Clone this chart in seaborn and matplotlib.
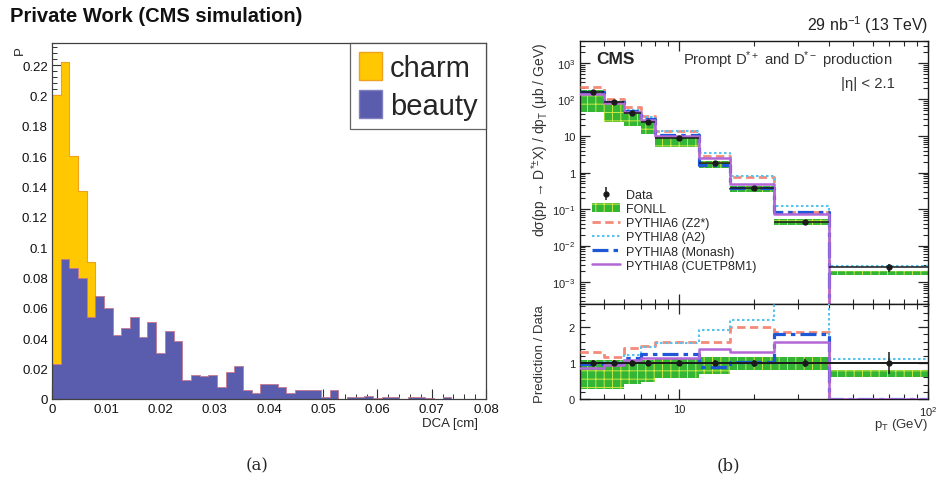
import numpy as np
import pandas as pd
import matplotlib
matplotlib.use("Agg")
import matplotlib.pyplot as plt
import seaborn as sns
from matplotlib.ticker import MultipleLocator, FixedLocator, FuncFormatter, NullFormatter
from matplotlib.patches import Patch

# ---------------- panel (a): DCA distributions ----------------
dca_min, dca_max, dca_nbins = 0.0, 0.08, 50
beauty = [0.023, 0.092, 0.086, 0.080, 0.054, 0.068, 0.060, 0.042, 0.047, 0.054,
          0.041, 0.051, 0.030, 0.045, 0.038, 0.0125, 0.016, 0.015, 0.016, 0.008,
          0.018, 0.022, 0.006, 0.004, 0.010, 0.010, 0.0077, 0.004, 0.006, 0.006,
          0.006, 0.001, 0.006, 0.0, 0.0015, 0.0015, 0.002, 0.0005, 0.0015, 0.0015,
          0.0, 0.0015, 0.0015, 0.0005, 0.0, 0.001, 0.0003, 0.0003, 0.0003, 0.0]
charm = [0.200, 0.222, 0.160, 0.137, 0.090, 0.040, 0.030, 0.022, 0.016, 0.012,
         0.008, 0.006]
legend_labels_a = ["charm", "beauty"]

# ---------------- panel (b): D* cross sections ----------------
pt_edges = [4, 5, 6, 7, 8, 12, 16, 24, 40, 100]
data_pt = [4.5, 5.5, 6.5, 7.5, 10, 14, 20, 32, 70]
data_xsec = [164, 86, 43, 23.7, 8.65, 1.82, 0.37, 0.045, 0.0025]
data_xsec_err = [15, 8, 4, 2.2, 0.8, 0.17, 0.035, 0.005, 0.0006]
fonll_lo = [46, 24, 18.5, 11.4, 5.1, 1.29, 0.30, 0.036, 0.0016]
fonll_hi = [177, 93, 47, 26, 9.7, 2.13, 0.43, 0.053, 0.0020]
py6_z2 = [215, 100, 61, 35, 13.7, 2.9, 0.74, 0.085, 0.0]
py8_a2 = [165, 88, 53, 34, 13.4, 3.5, 0.82, 0.12, 0.0028]
py8_monash = [162, 85, 49, 30, 10.9, 1.62, 0.38, 0.082, 0.0]
py8_cuetp = [141, 81, 46, 27, 9.9, 2.55, 0.48, 0.072, 0.0]

ratio_data_err = [0.09, 0.09, 0.09, 0.09, 0.09, 0.09, 0.10, 0.12, 0.30]
ratio_fonll_lo = [0.28, 0.28, 0.43, 0.48, 0.59, 0.71, 0.80, 0.80, 0.62]
ratio_fonll_hi = [1.08, 1.08, 1.10, 1.10, 1.12, 1.17, 1.17, 1.17, 0.80]
ratio_z2 = [1.31, 1.17, 1.42, 1.49, 1.59, 1.59, 2.00, 1.88, 0.0]
ratio_a2 = [1.00, 1.02, 1.23, 1.45, 1.55, 1.93, 2.21, 2.90, 1.12]
ratio_monash = [0.99, 0.99, 1.15, 1.26, 1.26, 0.89, 1.02, 1.82, 0.0]
ratio_cuetp = [0.86, 0.94, 1.08, 1.14, 1.14, 1.40, 1.31, 1.60, 0.0]

series_labels = ["PYTHIA6 (Z2*)", "PYTHIA8 (A2)", "PYTHIA8 (Monash)", "PYTHIA8 (CUETP8M1)"]

# ---------------- styling ----------------
sns.set_theme(style="white")
plt.rcParams["font.family"] = ["Liberation Sans", "DejaVu Sans"]
plt.rcParams["mathtext.fontset"] = "custom"
plt.rcParams["mathtext.rm"] = "Liberation Sans"
plt.rcParams["mathtext.it"] = "Liberation Sans:italic"
plt.rcParams["mathtext.bf"] = "Liberation Sans:bold"
plt.rcParams["mathtext.default"] = "regular"
plt.rcParams["hatch.linewidth"] = 0.7

W, H = 943, 489
fig = plt.figure(figsize=(W / 100, H / 100), dpi=100)


def fx(x):
    return x / W


def fy(y):
    return 1 - y / H


def axes_px(x0, y0, x1, y1):
    return fig.add_axes([fx(x0), fy(y1), (x1 - x0) / W, (y1 - y0) / H])


# ================= panel (a) =================
axa = axes_px(52, 44, 486, 400)
edges_a = np.linspace(dca_min, dca_max, dca_nbins + 1)
w_a = edges_a[1] - edges_a[0]
df_b = pd.DataFrame({"dca": edges_a[:-1] + w_a / 2, "p": beauty})
df_c = pd.DataFrame({"dca": edges_a[:len(charm)] + w_a / 2, "p": charm})
edges_c = edges_a[:len(charm) + 1]

charm_col = "#FFC800"
beauty_col = "#5A5DAD"
sns.histplot(data=df_c, x="dca", weights="p", bins=list(edges_c), element="step",
             fill=True, color=charm_col, alpha=1, edgecolor="#F0A020", linewidth=0.8,
             ax=axa)
sns.histplot(data=df_b, x="dca", weights="p", bins=list(edges_a), element="step",
             fill=True, color=beauty_col, alpha=1, edgecolor="#C87890", linewidth=0.6,
             ax=axa)
axa.set_xlim(dca_min, dca_max)
axa.set_ylim(0, 0.2345)
axa.set_xlabel("")
axa.set_ylabel("")
axa.xaxis.set_major_locator(MultipleLocator(0.01))
axa.xaxis.set_minor_locator(MultipleLocator(0.002))
axa.yaxis.set_major_locator(MultipleLocator(0.02))
axa.yaxis.set_minor_locator(MultipleLocator(0.004))
fmt_g = FuncFormatter(lambda v, p: "%g" % round(v, 4))
axa.xaxis.set_major_formatter(fmt_g)
axa.yaxis.set_major_formatter(fmt_g)
axa.tick_params(which="both", direction="in", left=True, bottom=True, top=False,
                right=False, labelsize=9.5, colors="#303030", labelcolor="#111111")
axa.tick_params(which="major", length=7, width=0.8, pad=3)
axa.tick_params(which="minor", length=3.5, width=0.7)
for s in axa.spines.values():
    s.set_color("#404040")
    s.set_linewidth(0.9)

handles_a = [Patch(facecolor=charm_col, edgecolor="#F0A020"),
             Patch(facecolor=beauty_col, edgecolor="#8080C0")]
leg_a = axa.legend(handles_a, legend_labels_a, loc="upper right", bbox_to_anchor=(1, 1),
                   borderaxespad=0, fontsize=21, frameon=True, fancybox=False,
                   edgecolor="#404040", handlelength=0.8, handleheight=1.1,
                   handletextpad=0.25, labelspacing=0.3, borderpad=0.3)
leg_a.get_frame().set_linewidth(0.9)

fig.text(fx(10), fy(17), "Private Work (CMS simulation)", fontsize=14.5,
         fontweight="bold", ha="left", va="center", color="#111111")
fig.text(fx(20), fy(51), "P", fontsize=9.5, rotation=90, ha="center", va="center")
fig.text(fx(478), fy(424), "DCA [cm]", fontsize=9.5, ha="right", va="center")
fig.text(fx(257), fy(466), "(a)", fontsize=12, family="DejaVu Serif",
         ha="center", va="center")

# ================= panel (b) =================
ax1 = axes_px(580, 42, 928, 305)
ax2 = axes_px(580, 305, 928, 400)

edges_b = np.array(pt_edges, dtype=float)
data_pt_a = np.array(data_pt)
xerr = [data_pt_a - edges_b[:-1], edges_b[1:] - data_pt_a]

green = "#35B535"
hatch_col = "#C8E845"


def band(ax, lo, hi):
    ax.stairs(hi, edges_b, baseline=lo, fill=True, facecolor=green,
              edgecolor="none", linewidth=0, zorder=1)
    ax.stairs(hi, edges_b, baseline=lo, fill=True, facecolor="none",
              edgecolor=hatch_col, hatch="++", linewidth=0, zorder=1.1)


styles = [
    dict(color="#F48A78", linestyle=(0, (3, 1.6)), linewidth=2.0),
    dict(color="#58C4EE", linestyle=(0, (1.2, 1.2)), linewidth=1.5),
    dict(color="#1E58D6", linestyle=(0, (5, 1.6, 1.4, 1.6)), linewidth=2.3),
    dict(color="#B366D6", linestyle="-", linewidth=1.8),
]


def steps(ax, vals, st):
    df = pd.DataFrame({"pt": edges_b,
                       "v": np.append(np.asarray(vals, dtype=float), vals[-1])})
    sns.lineplot(data=df, x="pt", y="v", ax=ax, drawstyle="steps-post",
                 zorder=3, legend=False, **st)


band(ax1, fonll_lo, fonll_hi)
for vals, st in zip([py6_z2, py8_a2, py8_monash, py8_cuetp], styles):
    steps(ax1, vals, st)
ax1.errorbar(data_pt, data_xsec, xerr=xerr, yerr=data_xsec_err, fmt="o", color="k",
             ms=3.5, lw=1.1, capsize=0, zorder=5)

band(ax2, ratio_fonll_lo, ratio_fonll_hi)
for vals, st in zip([ratio_z2, ratio_a2, ratio_monash, ratio_cuetp], styles):
    steps(ax2, vals, st)
ax2.axhline(1.0, color="k", lw=1.3, zorder=4)
ax2.errorbar(data_pt, [1.0] * len(data_pt), xerr=xerr, yerr=ratio_data_err, fmt="o",
             color="k", ms=3.5, lw=1.1, capsize=0, zorder=5)

for ax in (ax1, ax2):
    ax.set_xscale("log")
    ax.set_xlim(4, 100)
    ax.set_xlabel("")
    ax.set_ylabel("")
    ax.xaxis.set_major_locator(FixedLocator([10, 100]))
    ax.xaxis.set_minor_locator(FixedLocator([5, 6, 7, 8, 9, 20, 30, 40, 50, 60, 70, 80, 90]))
    ax.xaxis.set_minor_formatter(NullFormatter())
    ax.tick_params(which="both", direction="in", top=True, right=True, left=True,
                   bottom=True, labelsize=8, labelcolor="#222222")
    ax.tick_params(which="major", length=7, width=0.9)
    ax.tick_params(which="minor", length=3.5, width=0.8)
    for s in ax.spines.values():
        s.set_color("#1a1a1a")
        s.set_linewidth(1.0)

ax1.set_yscale("log")
ax1.set_ylim(2.5e-4, 4e3)
ax1.yaxis.set_major_locator(FixedLocator([1e-3, 1e-2, 1e-1, 1, 10, 100, 1000]))


def log_fmt(v, p):
    n = int(round(np.log10(v)))
    if n == 0:
        return "1"
    if n == 1:
        return "10"
    return r"$10^{%d}$" % n


ax1.yaxis.set_major_formatter(FuncFormatter(log_fmt))
ax1.tick_params(axis="x", labelbottom=False)

ax2.set_ylim(0, 2.65)
ax2.yaxis.set_major_locator(FixedLocator([0, 1, 2]))
ax2.yaxis.set_minor_locator(MultipleLocator(0.2))
ax2.xaxis.set_major_formatter(FuncFormatter(lambda v, p: "10" if v < 50 else r"$10^{2}$"))

# legend for panel (b)
data_h = ax1.errorbar([np.nan], [np.nan], yerr=[1], fmt="o", color="k", ms=3.5,
                      lw=1.1, capsize=0)
fonll_h = Patch(facecolor=green, edgecolor=hatch_col, hatch="++", linewidth=0)
line_h = [matplotlib.lines.Line2D([], [], **st) for st in styles]
ax1.legend([data_h, fonll_h] + line_h, ["Data", "FONLL"] + series_labels,
           loc="upper left", bbox_to_anchor=(0.035, 0.437), frameon=False,
           fontsize=9, handlelength=2.2, handletextpad=0.5, labelspacing=0.17,
           borderaxespad=0, borderpad=0)

fig.text(fx(928), fy(25), r"29 nb$^{-1}$ (13 TeV)", fontsize=11.5, ha="right",
         va="center", color="#222222")
fig.text(fx(596), fy(60), "CMS", fontsize=12.5, fontweight="bold", ha="left",
         va="center")
fig.text(fx(893), fy(60), r"Prompt D$^{*+}$ and D$^{*-}$ production", fontsize=10.7,
         ha="right", va="center", color="#333333")
fig.text(fx(895), fy(84), "|η| < 2.1", fontsize=10.7, ha="right", va="center",
         color="#333333")
fig.text(fx(540), fy(140), r"dσ(pp → D$^{*±}$X) / dp$_{T}$ (μb / GeV)",
         fontsize=10, rotation=90, ha="center", va="center", color="#333333")
fig.text(fx(540), fy(354), "Prediction / Data", fontsize=9.5, rotation=90,
         ha="center", va="center", color="#333333")
fig.text(fx(928), fy(425), r"p$_{T}$ (GeV)", fontsize=9.5, ha="right", va="center",
         color="#333333")
fig.text(fx(728), fy(466), "(b)", fontsize=12, family="DejaVu Serif",
         ha="center", va="center")

fig.savefig("out.png", dpi=100)
